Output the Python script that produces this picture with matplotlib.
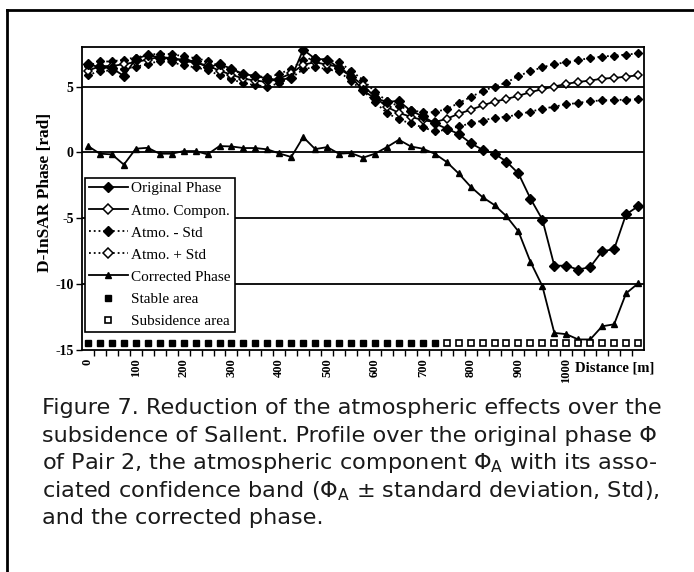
import matplotlib
matplotlib.use('Agg')
import matplotlib.pyplot as plt
from matplotlib.lines import Line2D
import numpy as np

# distance along the profile [m]
distance = [0, 25, 50, 75, 100, 125, 150, 175, 200, 225,
            250, 275, 300, 325, 350, 375, 400, 425, 450, 475,
            500, 525, 550, 575, 600, 625, 650, 675, 700, 725,
            750, 775, 800, 825, 850, 875, 900, 925, 950, 975,
            1000, 1025, 1050, 1075, 1100, 1125, 1150]

original = [6.7, 6.45, 6.4, 5.8, 7.1, 7.4, 7.2, 7.1, 7.05, 6.9,
            6.45, 6.7, 6.35, 5.95, 5.8, 5.6, 5.5, 5.65, 7.8, 7.1,
            7.05, 6.4, 5.75, 4.7, 4.1, 3.85, 3.9, 3.15, 2.75, 2.2,
            1.8, 1.4, 0.7, 0.2, -0.1, -0.7, -1.6, -3.5, -5.1, -8.6,
            -8.6, -8.9, -8.7, -7.5, -7.35, -4.7, -4.1]

atmo = [6.2, 6.55, 6.55, 6.7, 6.85, 7.05, 7.25, 7.15, 6.95, 6.8,
        6.6, 6.2, 5.9, 5.6, 5.45, 5.35, 5.6, 6.0, 6.65, 6.85,
        6.65, 6.5, 5.8, 5.1, 4.2, 3.45, 3.0, 2.7, 2.45, 2.3,
        2.55, 2.93, 3.23, 3.56, 3.86, 4.05, 4.3, 4.57, 4.8, 5.0,
        5.2, 5.35, 5.45, 5.6, 5.65, 5.75, 5.85]

atmo_plus = [6.55, 6.9, 6.9, 7.05, 7.2, 7.4, 7.5, 7.45, 7.3, 7.15,
             6.95, 6.55, 6.25, 5.95, 5.8, 5.7, 5.95, 6.35, 7.0, 7.2,
             7.0, 6.85, 6.2, 5.5, 4.6, 3.9, 3.5, 3.2, 3.05, 3.05,
             3.3, 3.74, 4.2, 4.65, 5.0, 5.3, 5.8, 6.16, 6.46, 6.7,
             6.84, 7.0, 7.17, 7.27, 7.35, 7.42, 7.52]

atmo_minus = [5.85, 6.2, 6.2, 6.35, 6.5, 6.7, 6.95, 6.85, 6.6, 6.45,
              6.25, 5.85, 5.55, 5.25, 5.1, 5.0, 5.25, 5.65, 6.3, 6.5,
              6.3, 6.15, 5.4, 4.7, 3.8, 3.0, 2.5, 2.2, 1.9, 1.6,
              1.72, 1.97, 2.2, 2.42, 2.63, 2.7, 2.88, 3.1, 3.3, 3.48,
              3.64, 3.76, 3.89, 3.94, 3.98, 4.0, 4.04]

corrected = [0.48, -0.1, -0.15, -0.93, 0.28, 0.35, -0.1, -0.1, 0.1, 0.1,
             -0.15, 0.48, 0.45, 0.33, 0.33, 0.23, -0.08, -0.35, 1.16, 0.25,
             0.4, -0.1, -0.05, -0.4, -0.1, 0.4, 0.96, 0.45, 0.28, -0.1,
             -0.73, -1.6, -2.6, -3.4, -4.0, -4.85, -6.0, -8.3, -10.15, -13.7,
             -13.8, -14.2, -14.2, -13.2, -13.05, -10.7, -9.95]

# stable / subsidence flags drawn along the bottom
n_stable = 30
area_level = -14.5

x_ticks = [0, 100, 200, 300, 400, 500, 600, 700, 800, 900, 1000]
y_ticks = [5, 0, -5, -10, -15]

caption = [
    "Figure 7. Reduction of the atmospheric effects over the",
    "subsidence of Sallent. Profile over the original phase \u03a6",
    r"of Pair 2, the atmospheric component $\Phi_\mathrm{A}$ with its asso-",
    r"ciated confidence band ($\Phi_\mathrm{A}$ $\pm$ standard deviation, Std),",
    "and the corrected phase.",
]

plt.rcParams['font.family'] = ['Liberation Serif', 'DejaVu Serif']
plt.rcParams['mathtext.fontset'] = 'custom'
plt.rcParams['mathtext.rm'] = 'DejaVu Sans'
plt.rcParams['mathtext.it'] = 'DejaVu Sans:italic'

W, H = 694, 572
fig = plt.figure(figsize=(W / 100, H / 100), dpi=100)
ax = fig.add_axes([82 / W, 1 - 350 / H, 562 / W, 303 / H])

for yv in y_ticks[:-1]:
    ax.axhline(yv, color='black', lw=1.3, zorder=1)

lw = 1.3
ax.plot(distance, atmo_plus, ls=':', lw=lw, color='black', marker='D', ms=4.0,
        mfc='black', mec='black', zorder=3)
ax.plot(distance, atmo_minus, ls=':', lw=lw, color='black', marker='D', ms=4.0,
        mfc='black', mec='black', zorder=3)
ax.plot(distance, atmo, ls='-', lw=lw, color='black', marker='D', ms=4.2,
        mfc='white', mec='black', mew=1.1, zorder=4)
ax.plot(distance, original, ls='-', lw=lw, color='black', marker='D', ms=4.6,
        mfc='black', mec='black', zorder=5)
ax.plot(distance, corrected, ls='-', lw=lw, color='black', marker='^', ms=5,
        mfc='black', mec='black', zorder=5)
ax.plot(distance[:n_stable], [area_level] * n_stable, ls='none', marker='s',
        ms=5, mfc='black', mec='black', zorder=5)
ax.plot(distance[n_stable:], [area_level] * (len(distance) - n_stable), ls='none',
        marker='s', ms=4.6, mfc='white', mec='black', mew=1.2, zorder=5)

ax.set_xlim(-12.5, 1162.5)
ax.set_ylim(-15, 8)
ax.set_yticks(y_ticks)
ax.set_yticklabels([str(v) for v in y_ticks], fontsize=10, fontweight='bold')
ax.set_xticks(x_ticks)
ax.set_xticklabels([str(v) for v in x_ticks], rotation=90, fontsize=9,
                   fontweight='bold')
ax.set_xticks(np.arange(12.5, 1162.5, 25), minor=True)
ax.tick_params(axis='x', which='major', length=0, pad=6)
ax.tick_params(axis='x', which='minor', length=4, width=1, direction='out')
ax.tick_params(axis='y', length=4, width=1, direction='out', pad=2)
for sp in ax.spines.values():
    sp.set_linewidth(1.3)

handles = [
    Line2D([], [], ls='-', lw=lw, color='black', marker='D', ms=4.6, mfc='black'),
    Line2D([], [], ls='-', lw=lw, color='black', marker='D', ms=4.6, mfc='white', mew=1.1),
    Line2D([], [], ls=':', lw=lw, color='black', marker='D', ms=4.6, mfc='black'),
    Line2D([], [], ls=':', lw=lw, color='black', marker='D', ms=4.6, mfc='white', mew=1.1),
    Line2D([], [], ls='-', lw=lw, color='black', marker='^', ms=5, mfc='black'),
    Line2D([], [], ls='none', marker='s', ms=5, mfc='black', mec='black'),
    Line2D([], [], ls='none', marker='s', ms=4.6, mfc='white', mec='black', mew=1.2),
]
labels = ['Original Phase', 'Atmo. Compon.', 'Atmo. - Std', 'Atmo. + Std',
          'Corrected Phase', 'Stable area', 'Subsidence area']
leg = ax.legend(handles, labels, loc='upper left', bbox_to_anchor=(0.005, 0.568),
                fontsize=11, frameon=True, fancybox=False, framealpha=1,
                edgecolor='black', borderpad=0.25, labelspacing=0.55,
                handlelength=2.6, handletextpad=0.2, borderaxespad=0)
leg.get_frame().set_linewidth(1.2)
leg.set_zorder(10)

fig.text(45 / W, 1 - 192 / H, 'D-InSAR Phase [rad]', rotation=90, ha='center',
         va='center', fontsize=12.5, fontweight='bold')
fig.text(575 / W, 1 - 368 / H, 'Distance [m]', ha='left', va='center',
         fontsize=10.5, fontweight='bold')

for i, line in enumerate(caption):
    fig.text(42 / W, 1 - (408 + 27.6 * i) / H, line, ha='left', va='center',
             fontsize=16.1, family='DejaVu Sans', color='#1a1a1a')

# page frame of the scanned figure
fig.add_artist(Line2D([7 / W, 7 / W], [0, 1 - 10 / H], color='black', lw=2))
fig.add_artist(Line2D([7 / W, 1], [1 - 10 / H, 1 - 10 / H], color='black', lw=2))

fig.savefig('out.png', dpi=100)
